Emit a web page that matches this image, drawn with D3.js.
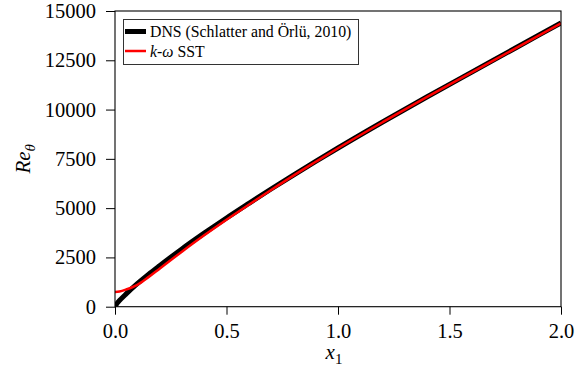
<!DOCTYPE html>
<html>
<head>
<meta charset="utf-8">
<script src="https://cdn.jsdelivr.net/npm/d3@7"></script>
<style>
  html, body { margin: 0; padding: 0; background: #fff; }
  svg { display: block; }
  svg text { font-family: "Liberation Serif", "Tinos", "DejaVu Serif", serif !important; fill: #000; }
  .tick text { font-size: 20.5px !important; }
</style>
</head>
<body>
<svg id="chart" width="575" height="373"></svg>
<script>
// Streamwise position x1
const dnsX = [0, 0.01, 0.025, 0.05, 0.1, 0.15, 0.2, 0.3, 0.4, 0.5, 0.6, 0.7, 0.8, 0.9, 1.0, 1.2, 1.4, 1.6, 1.8, 2.0];
// Momentum-thickness Reynolds number, DNS (Schlatter and Örlü, 2010)
const dnsRe = [0, 180, 370, 650, 1170, 1640, 2080, 2930, 3730, 4500, 5240, 5970, 6680, 7370, 8050, 9370, 10650, 11900, 13150, 14400];

const sstX = [0, 0.02, 0.05, 0.08, 0.1, 0.15, 0.2, 0.3, 0.4, 0.5, 0.6, 0.7, 0.8, 0.9, 1.0, 1.2, 1.4, 1.6, 1.8, 2.0];
// k-omega SST prediction
const sstRe = [740, 770, 870, 1000, 1110, 1500, 1930, 2790, 3620, 4410, 5170, 5920, 6650, 7350, 8040, 9360, 10640, 11890, 13130, 14380];

const xTicks = [0, 0.5, 1.0, 1.5, 2.0];
const yTicks = [0, 2500, 5000, 7500, 10000, 12500, 15000];

const legendLabels = ["DNS (Schlatter and Örlü, 2010)", "SST"];

const svg = d3.select("#chart");
const m = { left: 115, top: 11, right: 561, bottom: 306.7 };

const x = d3.scaleLinear().domain([0, 2]).range([m.left, m.right]);
const y = d3.scaleLinear().domain([0, 15000]).range([m.bottom, m.top]);

// Curves, clipped to the plot frame
svg.append("clipPath").attr("id", "plotclip")
  .append("rect").attr("x", m.left).attr("y", m.top)
  .attr("width", m.right - m.left).attr("height", m.bottom - m.top);

const line = d3.line().curve(d3.curveMonotoneX);
const g = svg.append("g").attr("clip-path", "url(#plotclip)");

g.append("path")
  .attr("d", line(dnsX.map((d, i) => [x(d), y(dnsRe[i])])))
  .attr("fill", "none").attr("stroke", "#000").attr("stroke-width", 5);

g.append("path")
  .attr("d", line(sstX.map((d, i) => [x(d), y(sstRe[i])])))
  .attr("fill", "none").attr("stroke", "#ff0000").attr("stroke-width", 2.5);

// Axes
const xAxis = svg.append("g").attr("transform", `translate(0,${m.bottom})`)
  .call(d3.axisBottom(x).tickValues(xTicks).tickFormat(d3.format(".1f")).tickSize(8).tickPadding(9));
const yAxis = svg.append("g").attr("transform", `translate(${m.left},0)`)
  .call(d3.axisLeft(y).tickValues(yTicks).tickFormat(d3.format("d")).tickSize(9).tickPadding(10));

[xAxis, yAxis].forEach(a => {
  a.attr("font-family", null).attr("font-size", null);
  a.select(".domain").remove();
  a.selectAll("line").attr("stroke", "#000").attr("stroke-width", 1);
});

// Plot frame
svg.append("rect")
  .attr("x", m.left).attr("y", m.top)
  .attr("width", m.right - m.left).attr("height", m.bottom - m.top)
  .attr("fill", "none").attr("stroke", "#000").attr("stroke-width", 1.1);

// Axis titles
const xl = svg.append("text")
  .attr("x", (m.left + m.right) / 2 - 4).attr("y", 359)
  .attr("text-anchor", "middle").style("font-size", "21px");
xl.append("tspan").style("font-style", "italic").text("x");
xl.append("tspan").attr("dy", 5).style("font-size", "15px").text("1");

const yl = svg.append("text")
  .attr("transform", `translate(30,${(m.top + m.bottom) / 2}) rotate(-90)`)
  .attr("text-anchor", "middle").style("font-size", "21px");
yl.append("tspan").style("font-style", "italic").text("Re");
yl.append("tspan").attr("dy", 5).style("font-style", "italic").style("font-size", "15px").text("θ");

// Legend
const lg = svg.append("g");
lg.append("rect")
  .attr("x", 123.5).attr("y", 19.5).attr("width", 235).attr("height", 45)
  .attr("fill", "#fff").attr("stroke", "#333").attr("stroke-width", 1);

lg.append("line").attr("x1", 125).attr("x2", 146).attr("y1", 31.5).attr("y2", 31.5)
  .attr("stroke", "#000").attr("stroke-width", 5);
lg.append("text").attr("x", 150).attr("y", 37).style("font-size", "15.8px").text(legendLabels[0]);

lg.append("line").attr("x1", 125).attr("x2", 146).attr("y1", 51).attr("y2", 51)
  .attr("stroke", "#ff0000").attr("stroke-width", 2.5);
const t2 = lg.append("text").attr("x", 150).attr("y", 56.5).style("font-size", "15.8px");
t2.append("tspan").style("font-style", "italic").text("k");
t2.append("tspan").text("-");
t2.append("tspan").style("font-style", "italic").text("ω");
t2.append("tspan").text(" " + legendLabels[1]);
</script>
</body>
</html>
